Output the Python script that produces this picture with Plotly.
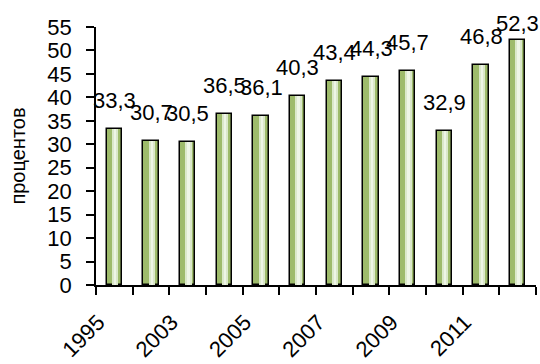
import plotly.graph_objects as go

# Share of respondents by year, percent
years = ["1995", "2002", "2003", "2004", "2005", "2006",
         "2007", "2008", "2009", "2010", "2011", "2012"]
values = [33.3, 30.7, 30.5, 36.5, 36.1, 40.3, 43.4, 44.3, 45.7, 32.9, 46.8, 52.3]
tick_labels = ["1995", "", "2003", "", "2005", "", "2007", "", "2009", "", "2011", ""]
y_ticks = list(range(0, 56, 5))

FONT = "Liberation Sans, Arial, sans-serif"
W, H = 540, 364
M = dict(l=96, r=4, t=27, b=79)
Y_MAX = 55

pos = list(range(len(years)))  # category slots on the x axis

fig = go.Figure()

# outer bar body
fig.add_trace(go.Bar(
    x=pos, y=values, width=0.41,
    marker=dict(color="#9ebb6b", line=dict(color="#000000", width=1.5)),
    hoverinfo="skip",
))
# light centre stripe
fig.add_trace(go.Bar(
    x=pos, y=values, width=0.17, offset=-0.06,
    marker=dict(color="#dbe8ca", line=dict(width=0)),
    hoverinfo="skip",
))
# pale highlight line inside the stripe
fig.add_trace(go.Bar(
    x=pos, y=values, width=0.05, offset=0.0,
    marker=dict(color="#eef5e6", line=dict(width=0)),
    hoverinfo="skip",
))

# value labels above bars, kept inside the chart near the top edge
plot_h = H - M["t"] - M["b"]
annotations = []
for p, v in zip(pos, values):
    top_px = M["t"] + plot_h * (1 - v / Y_MAX)
    shift = min(14, top_px - 38)
    annotations.append(dict(
        x=p, y=v, text=f"{v:.1f}".replace(".", ","),
        showarrow=False, yanchor="bottom", xanchor="center",
        yshift=shift, font=dict(family=FONT, size=22, color="#000000"),
    ))

fig.update_layout(
    width=W, height=H, margin=M,
    barmode="overlay", bargap=0,
    paper_bgcolor="white", plot_bgcolor="white",
    showlegend=False,
    annotations=annotations,
    font=dict(family=FONT, color="#000000"),
)
fig.update_xaxes(
    range=[-0.5, len(years) - 0.5], automargin=False,
    tickmode="array", tickvals=pos, ticktext=tick_labels,
    tickangle=-45, ticks="", ticklabelstandoff=14, ticklabelshift=-16,
    minor=dict(tickmode="array", tickvals=[p - 0.5 for p in pos] + [len(pos) - 0.5],
               ticks="outside", ticklen=8, tickwidth=1.5, tickcolor="#000000",
               showgrid=False),
    showline=True, linecolor="#000000", linewidth=1.5,
    showgrid=False, zeroline=False, tickfont=dict(family=FONT, size=22),
)
fig.update_yaxes(
    range=[0, Y_MAX], tickvals=y_ticks, ticks="outside", ticklen=8,
    tickwidth=1.5, tickcolor="#000000", ticklabelstandoff=10, automargin=False,
    showline=True, linecolor="#000000", linewidth=1.5,
    showgrid=False, zeroline=False, tickfont=dict(family=FONT, size=22),
    title=dict(text="процентов", font=dict(family=FONT, size=20), standoff=16),
)

fig.write_html("out.html")
